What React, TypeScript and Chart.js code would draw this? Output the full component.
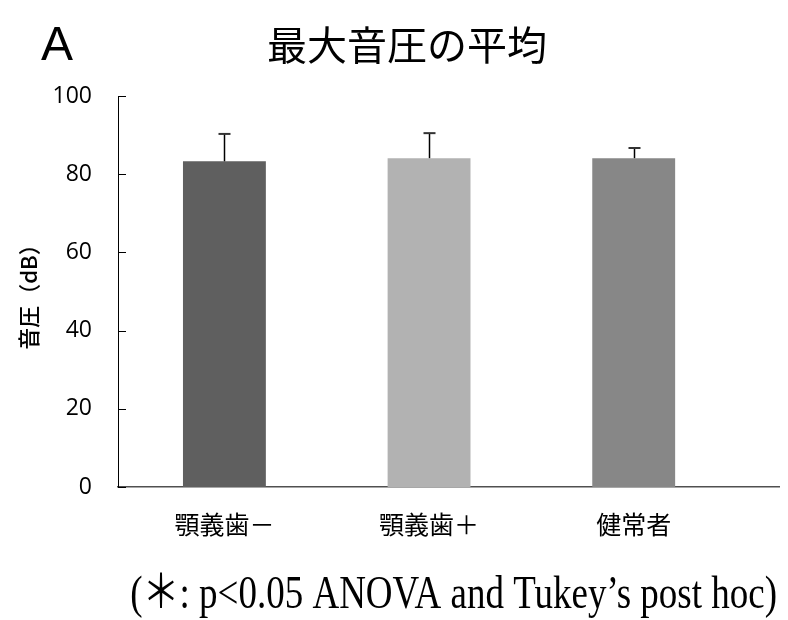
import React, { useEffect, useRef } from "react";
import { Chart, registerables } from "chart.js";

Chart.register(...registerables);

const categories = ["顎義歯－", "顎義歯＋", "健常者"];
const means = [83.3, 84.1, 84.1];
const errors = [7.0, 6.4, 2.6];
const barColors = ["#5f5f5f", "#b2b2b2", "#878787"];
const yTicks = [0, 20, 40, 60, 80, 100];
const titleText = "最大音圧の平均";
const panelLabel = "A";
const yAxisTitle = "音圧（dB）";
const footnote = "(＊: p<0.05 ANOVA and Tukey’s post hoc)";

const decorPlugin = {
  id: "decor",
  afterDatasetsDraw(chart: any) {
    const { ctx, scales, chartArea } = chart;
    const x = scales.x;
    const y = scales.y;
    ctx.save();
    // error bars (upper only)
    means.forEach((m, i) => {
      const px = Math.round(x.getPixelForValue(i)) + 0.5;
      const base = y.getPixelForValue(m);
      const top = y.getPixelForValue(m + errors[i]);
      ctx.strokeStyle = "#000";
      ctx.lineWidth = 1.5;
      ctx.beginPath();
      ctx.moveTo(px, base);
      ctx.lineTo(px, top);
      ctx.stroke();
      ctx.strokeStyle = "#333";
      ctx.lineWidth = 2;
      ctx.beginPath();
      ctx.moveTo(px - 6, top);
      ctx.lineTo(px + 6, top);
      ctx.stroke();
    });
    // inward y tick marks
    ctx.strokeStyle = "#000";
    ctx.lineWidth = 1;
    y.ticks.forEach((t: any) => {
      const py = Math.round(y.getPixelForValue(t.value)) + 0.5;
      ctx.beginPath();
      ctx.moveTo(chartArea.left, py);
      ctx.lineTo(chartArea.left + 8, py);
      ctx.stroke();
    });
    ctx.restore();
  },
  afterDraw(chart: any) {
    const { ctx } = chart;
    ctx.save();
    ctx.fillStyle = "#000";
    ctx.font = "40px 'Noto Sans CJK JP'";
    ctx.textAlign = "center";
    ctx.textBaseline = "middle";
    ctx.fillText(titleText, 407, 45);
    ctx.font = "48px 'Liberation Sans'";
    ctx.textAlign = "left";
    ctx.textBaseline = "alphabetic";
    ctx.fillText(panelLabel, 41, 60);
    ctx.restore();
    // footnote: serif text, vertically stretched as in the reference
    ctx.save();
    ctx.fillStyle = "#000";
    ctx.translate(777, 608);
    ctx.scale(1, 1.25);
    ctx.font = "37px 'Liberation Serif', 'Noto Sans CJK JP'";
    ctx.textAlign = "right";
    ctx.textBaseline = "alphabetic";
    ctx.fillText(footnote, 0, 0);
    ctx.restore();
  },
};

export default function App() {
  const ref = useRef<HTMLCanvasElement | null>(null);
  useEffect(() => {
    if (!ref.current) return;
    const chart = new Chart(ref.current, {
      type: "bar",
      data: {
        datasets: [
          {
            data: means.map((v, i) => ({ x: i, y: v })),
            backgroundColor: barColors,
            borderWidth: 0,
            barPercentage: 0.405,
            categoryPercentage: 1,
          },
        ],
      },
      options: {
        animation: false,
        responsive: false,
        layout: { padding: { top: 96, right: 9, left: 0, bottom: 0 } },
        plugins: {
          legend: { display: false },
          tooltip: { enabled: false },
          title: { display: false },
        },
        scales: {
          x: {
            type: "linear",
            offset: false,
            min: -0.52,
            max: 2.71,
            afterBuildTicks: (s: any) => {
              s.ticks = categories.map((_, i) => ({ value: i }));
            },
            afterFit: (s: any) => {
              s.height = 133;
            },
            grid: { display: false, drawTicks: false, offset: false },
            border: { display: true, color: "#505050", width: 1.5 },
            ticks: {
              padding: 22,
              color: "#000",
              font: { family: "'Noto Sans CJK JP'", size: 25 },
              callback: (v: any) => categories[v] ?? "",
            },
          },
          y: {
            min: 0,
            max: 100,
            afterBuildTicks: (s: any) => {
              s.ticks = yTicks.map((v) => ({ value: v }));
            },
            afterFit: (s: any) => {
              s.width = 118;
            },
            grid: { display: false, drawTicks: false },
            border: { display: true, color: "#000", width: 1 },
            ticks: {
              padding: 26,
              color: "#000",
              font: { family: "'Open Sans'", size: 23 },
            },
            title: {
              display: true,
              text: yAxisTitle,
              color: "#000",
              font: { family: "'Noto Sans CJK JP'", size: 22, weight: "500" },
              padding: { top: 15, bottom: 0 },
            },
          },
        },
      },
      plugins: [decorPlugin],
    });
    return () => chart.destroy();
  }, []);
  return (
    <div style={{ position: "absolute", left: 0, top: 0, width: 788, height: 620, background: "#fff" }}>
      <canvas ref={ref} width={788} height={620} style={{ display: "block" }} />
    </div>
  );
}
